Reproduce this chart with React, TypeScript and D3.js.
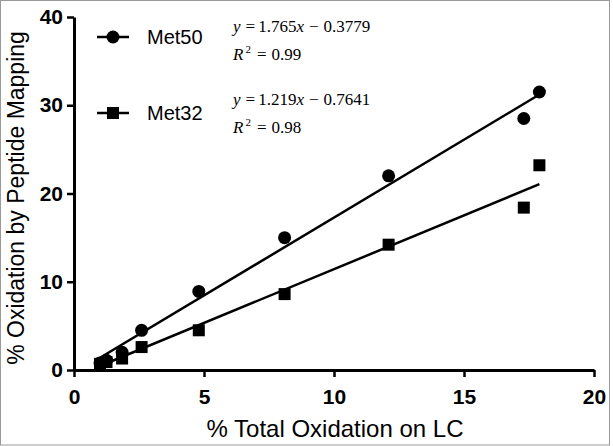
import React, { useRef, useEffect } from 'react';
import * as d3 from 'd3';

// Data
const lcOxidation = [1.0, 1.25, 1.85, 2.6, 4.8, 8.1, 12.1, 17.3, 17.9];
const met50Values = [0.8, 1.1, 2.0, 4.5, 8.9, 15.0, 22.0, 28.5, 31.5];
const met32Values = [0.7, 0.9, 1.3, 2.6, 4.5, 8.6, 14.2, 18.4, 23.2];

const seriesNames = ['Met50', 'Met32'];
const fitSlopes = [1.765, 1.219];
const fitIntercepts = [-0.3779, -0.7641];
const fitSlopeText = ['1.765', '1.219'];
const fitInterceptText = ['0.3779', '0.7641'];
const fitR2 = ['0.99', '0.98'];

const xTicks = [0, 5, 10, 15, 20];
const yTicks = [0, 10, 20, 30, 40];

const sans = '"Liberation Sans", Arial, sans-serif';
const serif = '"Liberation Serif", "Times New Roman", serif';

export default function App() {
    const ref = useRef<SVGSVGElement | null>(null);

    useEffect(() => {
        const svg = d3.select(ref.current);
        svg.selectAll('*').remove();

        // frame around the figure
        svg.append('rect')
            .attr('x', 0.5).attr('y', 0.5)
            .attr('width', 609).attr('height', 444.5)
            .attr('fill', 'white')
            .attr('stroke', '#9a9a9a')
            .attr('stroke-width', 1);

        const xScale = d3.scaleLinear().domain([0, 20]).range([74, 594]);
        const yScale = d3.scaleLinear().domain([0, 40]).range([370, 17]);

        // axes
        const xAxis = svg.append('g')
            .attr('transform', `translate(0, ${yScale(0)})`)
            .call(d3.axisBottom(xScale).tickValues(xTicks).tickSize(7).tickSizeOuter(0));
        const yAxis = svg.append('g')
            .attr('transform', `translate(${xScale(0)}, 0)`)
            .call(d3.axisLeft(yScale).tickValues(yTicks).tickSize(7).tickSizeOuter(0));

        [xAxis, yAxis].forEach(ax => {
            ax.select('.domain').attr('stroke', 'black').attr('stroke-width', 3);
            ax.selectAll('.tick line').attr('stroke', 'black').attr('stroke-width', 2.5);
            ax.selectAll('.tick text')
                .attr('font-family', sans)
                .attr('font-size', 21)
                .attr('font-weight', 'bold')
                .attr('fill', 'black');
        });
        xAxis.selectAll('.tick text').attr('dy', '0.71em').attr('y', 19);
        yAxis.selectAll('.tick text').attr('x', -11);

        // axis titles
        svg.append('text')
            .attr('x', 335).attr('y', 437)
            .attr('text-anchor', 'middle')
            .attr('font-family', sans)
            .attr('font-size', 24)
            .text('% Total Oxidation on LC');

        svg.append('text')
            .attr('transform', `translate(24, 198) rotate(-90)`)
            .attr('text-anchor', 'middle')
            .attr('font-family', sans)
            .attr('font-size', 23)
            .text('% Oxidation by Peptide Mapping');

        // regression lines
        const xMin = d3.min(lcOxidation) as number;
        const xMax = d3.max(lcOxidation) as number;
        fitSlopes.forEach((m, i) => {
            svg.append('line')
                .attr('x1', xScale(xMin))
                .attr('y1', yScale(m * xMin + fitIntercepts[i]))
                .attr('x2', xScale(xMax))
                .attr('y2', yScale(m * xMax + fitIntercepts[i]))
                .attr('stroke', 'black')
                .attr('stroke-width', 2.5);
        });

        // markers
        svg.selectAll('circle.met50')
            .data(met50Values)
            .enter()
            .append('circle')
            .attr('class', 'met50')
            .attr('cx', (d, i) => xScale(lcOxidation[i]))
            .attr('cy', d => yScale(d))
            .attr('r', 6.5)
            .attr('fill', 'black');

        const sq = 12;
        svg.selectAll('rect.met32')
            .data(met32Values)
            .enter()
            .append('rect')
            .attr('class', 'met32')
            .attr('x', (d, i) => xScale(lcOxidation[i]) - sq / 2)
            .attr('y', d => yScale(d) - sq / 2)
            .attr('width', sq)
            .attr('height', sq)
            .attr('fill', 'black');

        // legend
        const legendY = [37, 113];
        seriesNames.forEach((name, i) => {
            const g = svg.append('g').attr('transform', `translate(0, ${legendY[i]})`);
            g.append('line')
                .attr('x1', 97).attr('x2', 129)
                .attr('y1', 0).attr('y2', 0)
                .attr('stroke', 'black').attr('stroke-width', 2.5);
            if (i === 0) {
                g.append('circle').attr('cx', 113).attr('cy', 0).attr('r', 6.5).attr('fill', 'black');
            } else {
                g.append('rect').attr('x', 113 - sq / 2).attr('y', -sq / 2)
                    .attr('width', sq).attr('height', sq).attr('fill', 'black');
            }
            g.append('text')
                .attr('x', 147).attr('y', 0).attr('dy', '0.36em')
                .attr('font-family', sans)
                .attr('font-size', 20)
                .text(name);
        });

        // fit equations
        const eqY = [32, 105];
        fitSlopeText.forEach((s, i) => {
            const eq = svg.append('text')
                .attr('x', 233).attr('y', eqY[i])
                .attr('font-family', serif)
                .attr('font-size', 17);
            eq.append('tspan').attr('font-style', 'italic').text('y');
            eq.append('tspan').attr('dx', 5).text('=');
            eq.append('tspan').attr('dx', 3).text(s);
            eq.append('tspan').attr('font-style', 'italic').text('x');
            eq.append('tspan').attr('dx', 5).text('\u2212');
            eq.append('tspan').attr('dx', 5).text(fitInterceptText[i]);

            const r = svg.append('text')
                .attr('x', 233).attr('y', eqY[i] + 28)
                .attr('font-family', serif)
                .attr('font-size', 17);
            r.append('tspan').attr('font-style', 'italic').text('R');
            r.append('tspan').attr('dy', -7).attr('dx', 2).attr('font-size', 11).text('2');
            r.append('tspan').attr('dy', 7).attr('dx', 6).text('=');
            r.append('tspan').attr('dx', 5).text(fitR2[i]);
        });
    }, []);

    return (
        <svg ref={ref} width={613} height={446}
            style={{ position: 'absolute', left: 0, top: 0, display: 'block' }} />
    );
}
